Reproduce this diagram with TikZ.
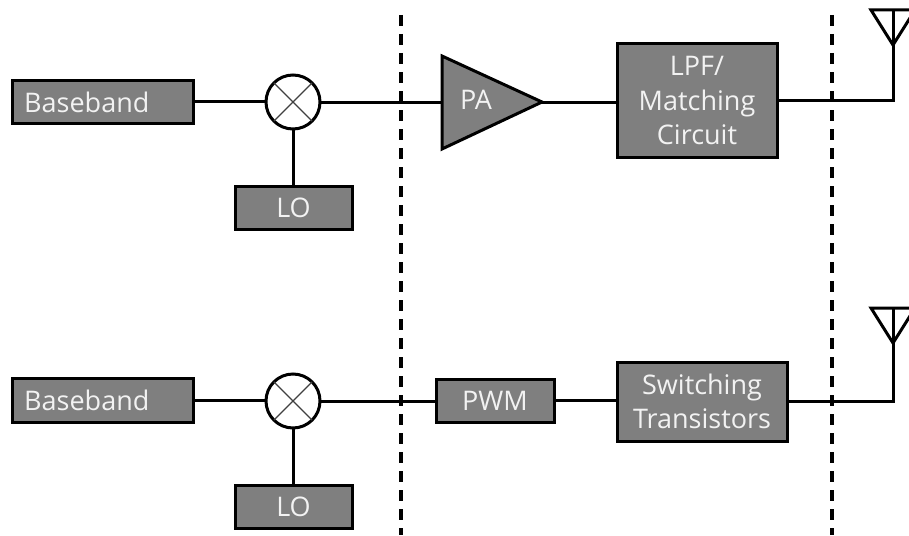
\documentclass[tikz,border=0pt]{standalone}
\usepackage{fontspec}
\setmainfont{Open Sans}
\definecolor{boxgrey}{HTML}{7F7F7F}
\definecolor{labelwhite}{HTML}{F2F2F2}
\tikzset{
  x=1pt,y=-1pt,
  labelfont/.style={text=labelwhite,font=\fontsize{27}{34.5}\selectfont},
  blockbox/.style={draw=black,line width=3pt,fill=boxgrey,labelfont,align=center,inner sep=0pt,outer sep=0pt,anchor=north west},
  mixernode/.style={draw=black,line width=3pt,fill=white,circle,minimum size=54pt,inner sep=0pt,outer sep=0pt},
  wire/.style={draw=black,line width=3pt},
  cross/.style={draw=black!75,line width=1.3pt},
  boundary/.style={draw=black,line width=3.5pt,dash pattern=on 11pt off 8pt},
  antennaline/.style={draw=black,line width=3pt,line join=miter}
}
\begin{document}
\begin{tikzpicture}
\useasboundingbox (0,0) rectangle (909,535);
\clip (0,0) rectangle (909,535);
% dashed boundaries
\coordinate (d1t) at (401,15); \coordinate (d1b) at (401,535);
\coordinate (d2t) at (832,15); \coordinate (d2b) at (832,535);
\draw[boundary] (d1t) -- (d1b);
\draw[boundary] (d2t) -- (d2b);
% top chain
\node[blockbox,minimum width=181pt,minimum height=43pt] (bb1) at (12,80) {};
\node[anchor=west,labelfont,inner sep=0pt] (bb1t) at (24,102) {Baseband};
\node[mixernode] (mx1) at (293,102) {};
\node[blockbox,minimum width=117pt,minimum height=43pt] (lo1) at (235,186) {LO};
\coordinate (pa1) at (442,56); \coordinate (pa2) at (442,149); \coordinate (pa3) at (542,102); \coordinate (pain) at (442,102);
\draw[wire,fill=boxgrey,line join=miter] (pa1) -- (pa3) -- (pa2) -- cycle;
\node[labelfont,inner sep=0pt] (patxt) at (476,100) {PA};
\node[blockbox,minimum width=160pt,minimum height=113pt] (lpf) at (617,44) {LPF/\\Matching\\Circuit};
\coordinate (ant1) at (893,102);
\coordinate (ant1tip) at (893,45);
\coordinate (ant1top) at (893,10);
\coordinate (ant1l) at (871,10);
\coordinate (ant1r) at (915,10);
\draw[wire] (bb1.east) -- (bb1.east -| mx1.west);
\draw[wire] (mx1.east) -- (pain);
\draw[wire] (mx1.south) -- (mx1.south |- lo1.north);
\draw[wire] (pa3) -- (pa3 -| lpf.west);
\draw[wire,line join=miter] (lpf.east) -- (lpf.east -| ant1) -- (ant1top);
\draw[antennaline] (ant1l) -- (ant1r) -- (ant1tip) -- cycle;
\draw[cross] (mx1.45) -- (mx1.225);
\draw[cross] (mx1.135) -- (mx1.315);
% bottom chain
\node[blockbox,minimum width=181pt,minimum height=44pt] (bb2) at (12,378) {};
\node[anchor=west,labelfont,inner sep=0pt] (bb2t) at (24,400) {Baseband};
\node[mixernode] (mx2) at (293,401) {};
\node[blockbox,minimum width=117pt,minimum height=43pt] (lo2) at (235,485) {LO};
\node[blockbox,minimum width=118pt,minimum height=43pt] (pwm) at (436,379) {PWM};
\node[blockbox,minimum width=170pt,minimum height=79pt] (sw) at (617,362) {Switching\\Transistors};
\coordinate (ant2) at (893,399);
\coordinate (ant2tip) at (893,343);
\coordinate (ant2top) at (893,308);
\coordinate (ant2l) at (871,308);
\coordinate (ant2r) at (915,308);
\draw[wire] (bb2.east) -- (bb2.east -| mx2.west);
\draw[wire] (mx2.east) -- (mx2.east -| pwm.west);
\draw[wire] (mx2.south) -- (mx2.south |- lo2.north);
\draw[wire] (pwm.east) -- (pwm.east -| sw.west);
\draw[wire,line join=miter] (sw.east) -- (sw.east -| ant2) -- (ant2top);
\draw[antennaline] (ant2l) -- (ant2r) -- (ant2tip) -- cycle;
\draw[cross] (mx2.45) -- (mx2.225);
\draw[cross] (mx2.135) -- (mx2.315);
\end{tikzpicture}
\end{document}
